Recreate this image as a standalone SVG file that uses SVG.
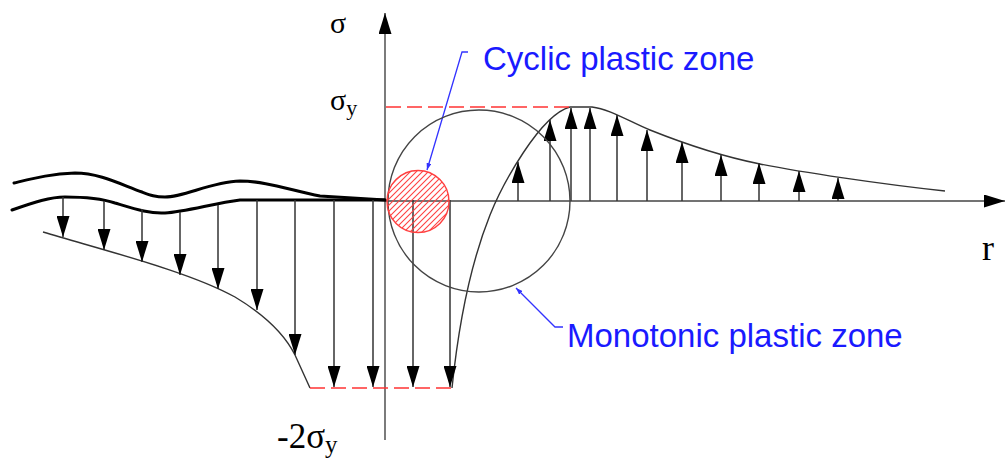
<svg xmlns="http://www.w3.org/2000/svg" width="1007" height="458" viewBox="0 0 1007 458">
<style>
.axis{stroke:#444;stroke-width:1.4;fill:none}
.shaft{stroke:#333;stroke-width:1.5;fill:none;marker-end:url(#ah)}
.crv{stroke:#333;stroke-width:1.4;fill:none}
.crack{stroke:#000;stroke-width:3;fill:none;stroke-linecap:round}
.rdash{stroke:#ff3333;stroke-width:1.6;stroke-dasharray:15,6;fill:none}
.lead{stroke:#3333ff;stroke-width:1.3;fill:none;marker-end:url(#bh)}
.blue{font-family:"Liberation Sans",Arial,sans-serif;font-size:33px;fill:#1a1aff}
.sym{font-family:"Liberation Serif","Times New Roman",serif;fill:#000}
</style>
<defs>
<marker id="ah" markerUnits="userSpaceOnUse" viewBox="0 -6.5 21 13" markerWidth="21" markerHeight="13" refX="21" refY="0" orient="auto">
<path d="M0,-6.5 L21,0 L0,6.5 z" fill="#000"/>
</marker>
<marker id="bh" markerUnits="userSpaceOnUse" viewBox="0 -2.5 7 5" markerWidth="7" markerHeight="5" refX="7" refY="0" orient="auto">
<path d="M0,-2.5 L7,0 L0,2.5 z" fill="#3333ff"/>
</marker>
<pattern id="hatch" patternUnits="userSpaceOnUse" width="6" height="6">
<rect width="6" height="6" fill="#fff" fill-opacity="0"/>
<path d="M-1.5,1.5 L1.5,-1.5 M0,6 L6,0 M4.5,7.5 L7.5,4.5" fill="none" stroke="#ff4040" stroke-width="1.1"/>
</pattern>
</defs>
<rect width="1007" height="458" fill="#fff"/>

<g id="axes">
<line class="axis" x1="385" y1="440" x2="385" y2="13" marker-end="url(#ah)"/>
<line class="axis" x1="385" y1="201" x2="1005" y2="201" marker-end="url(#ah)"/>
</g>

<g id="crack">
<path class="crack" d="M14,183 C35,178 50,174 75,173 C100,173 122,185 142,192 C150,195 155,197 165,197 C185,197 210,182 240,181 C265,181 290,190 320,196 L385,200"/>
<path class="crack" d="M12,210 C35,202 50,197 65,197 C85,197 100,198 115,203 C135,209 150,214 165,213 C185,212 215,203 240,200 L385,200"/>
</g>

<g id="envelopes">
<path class="crv" d="M43,232 C110,252 190,272 235,297 C265,315 285,335 295,355 L310,388"/>
<path class="crv" d="M452,388 C458,330 468,270 490,215 C502,185 540,115 570,107 L592,107 C610,109 630,122 650,130 C680,142 720,156 760,164 C800,172 880,184 945,191"/>
<line class="rdash" x1="310" y1="388" x2="452" y2="388"/>
<line class="rdash" x1="386" y1="107" x2="570" y2="107"/>
</g>

<g id="connectors">
<line class="shaft" x1="63" y1="197" x2="63" y2="237"/>
<line class="shaft" x1="104" y1="201" x2="104" y2="250"/>
<line class="shaft" x1="142" y1="209" x2="142" y2="262"/>
<line class="shaft" x1="180" y1="212" x2="180" y2="275"/>
<line class="shaft" x1="218" y1="205" x2="218" y2="289"/>
<line class="shaft" x1="257" y1="200" x2="257" y2="310"/>
<line class="shaft" x1="295" y1="200" x2="295" y2="355"/>
<line class="shaft" x1="334" y1="200" x2="334" y2="387"/>
<line class="shaft" x1="373" y1="200" x2="373" y2="387"/>
<line class="shaft" x1="413" y1="200" x2="413" y2="387"/>
<line class="shaft" x1="450" y1="200" x2="450" y2="387"/>
<line class="shaft" x1="518" y1="201" x2="518" y2="162"/>
<line class="shaft" x1="550" y1="201" x2="550" y2="120"/>
<line class="shaft" x1="571" y1="201" x2="571" y2="108"/>
<line class="shaft" x1="590" y1="201" x2="590" y2="108"/>
<line class="shaft" x1="617" y1="201" x2="617" y2="115"/>
<line class="shaft" x1="647" y1="201" x2="647" y2="130"/>
<line class="shaft" x1="682" y1="201" x2="682" y2="142"/>
<line class="shaft" x1="721" y1="201" x2="721" y2="155"/>
<line class="shaft" x1="759" y1="201" x2="759" y2="163"/>
<line class="shaft" x1="799" y1="201" x2="799" y2="171"/>
<line class="shaft" x1="838" y1="201" x2="838" y2="178"/>
<path class="lead" d="M468,52 L462,52 L427,170"/>
<path class="lead" d="M563,327 L555,327 L516,288"/>
</g>

<g id="monotonic-zone">
<circle cx="479" cy="201" r="91" fill="none" stroke="#444" stroke-width="1.4"/>
<text class="blue" x="567" y="347">Monotonic plastic zone</text>
</g>

<g id="cyclic-zone">
<circle cx="418" cy="201.5" r="31" fill="url(#hatch)" stroke="#ff4040" stroke-width="1.4"/>
<text class="blue" x="483" y="70">Cyclic plastic zone</text>
</g>

<g id="labels">
<text class="sym" x="330" y="33" font-size="30">σ</text>
<text class="sym" x="330" y="110" font-size="30">σ<tspan font-size="22" dy="5">y</tspan></text>
<text class="sym" x="277" y="448" font-size="35">-2σ<tspan font-size="25" dy="5">y</tspan></text>
<text class="sym" x="982" y="260" font-size="36">r</text>
</g>
</svg>
